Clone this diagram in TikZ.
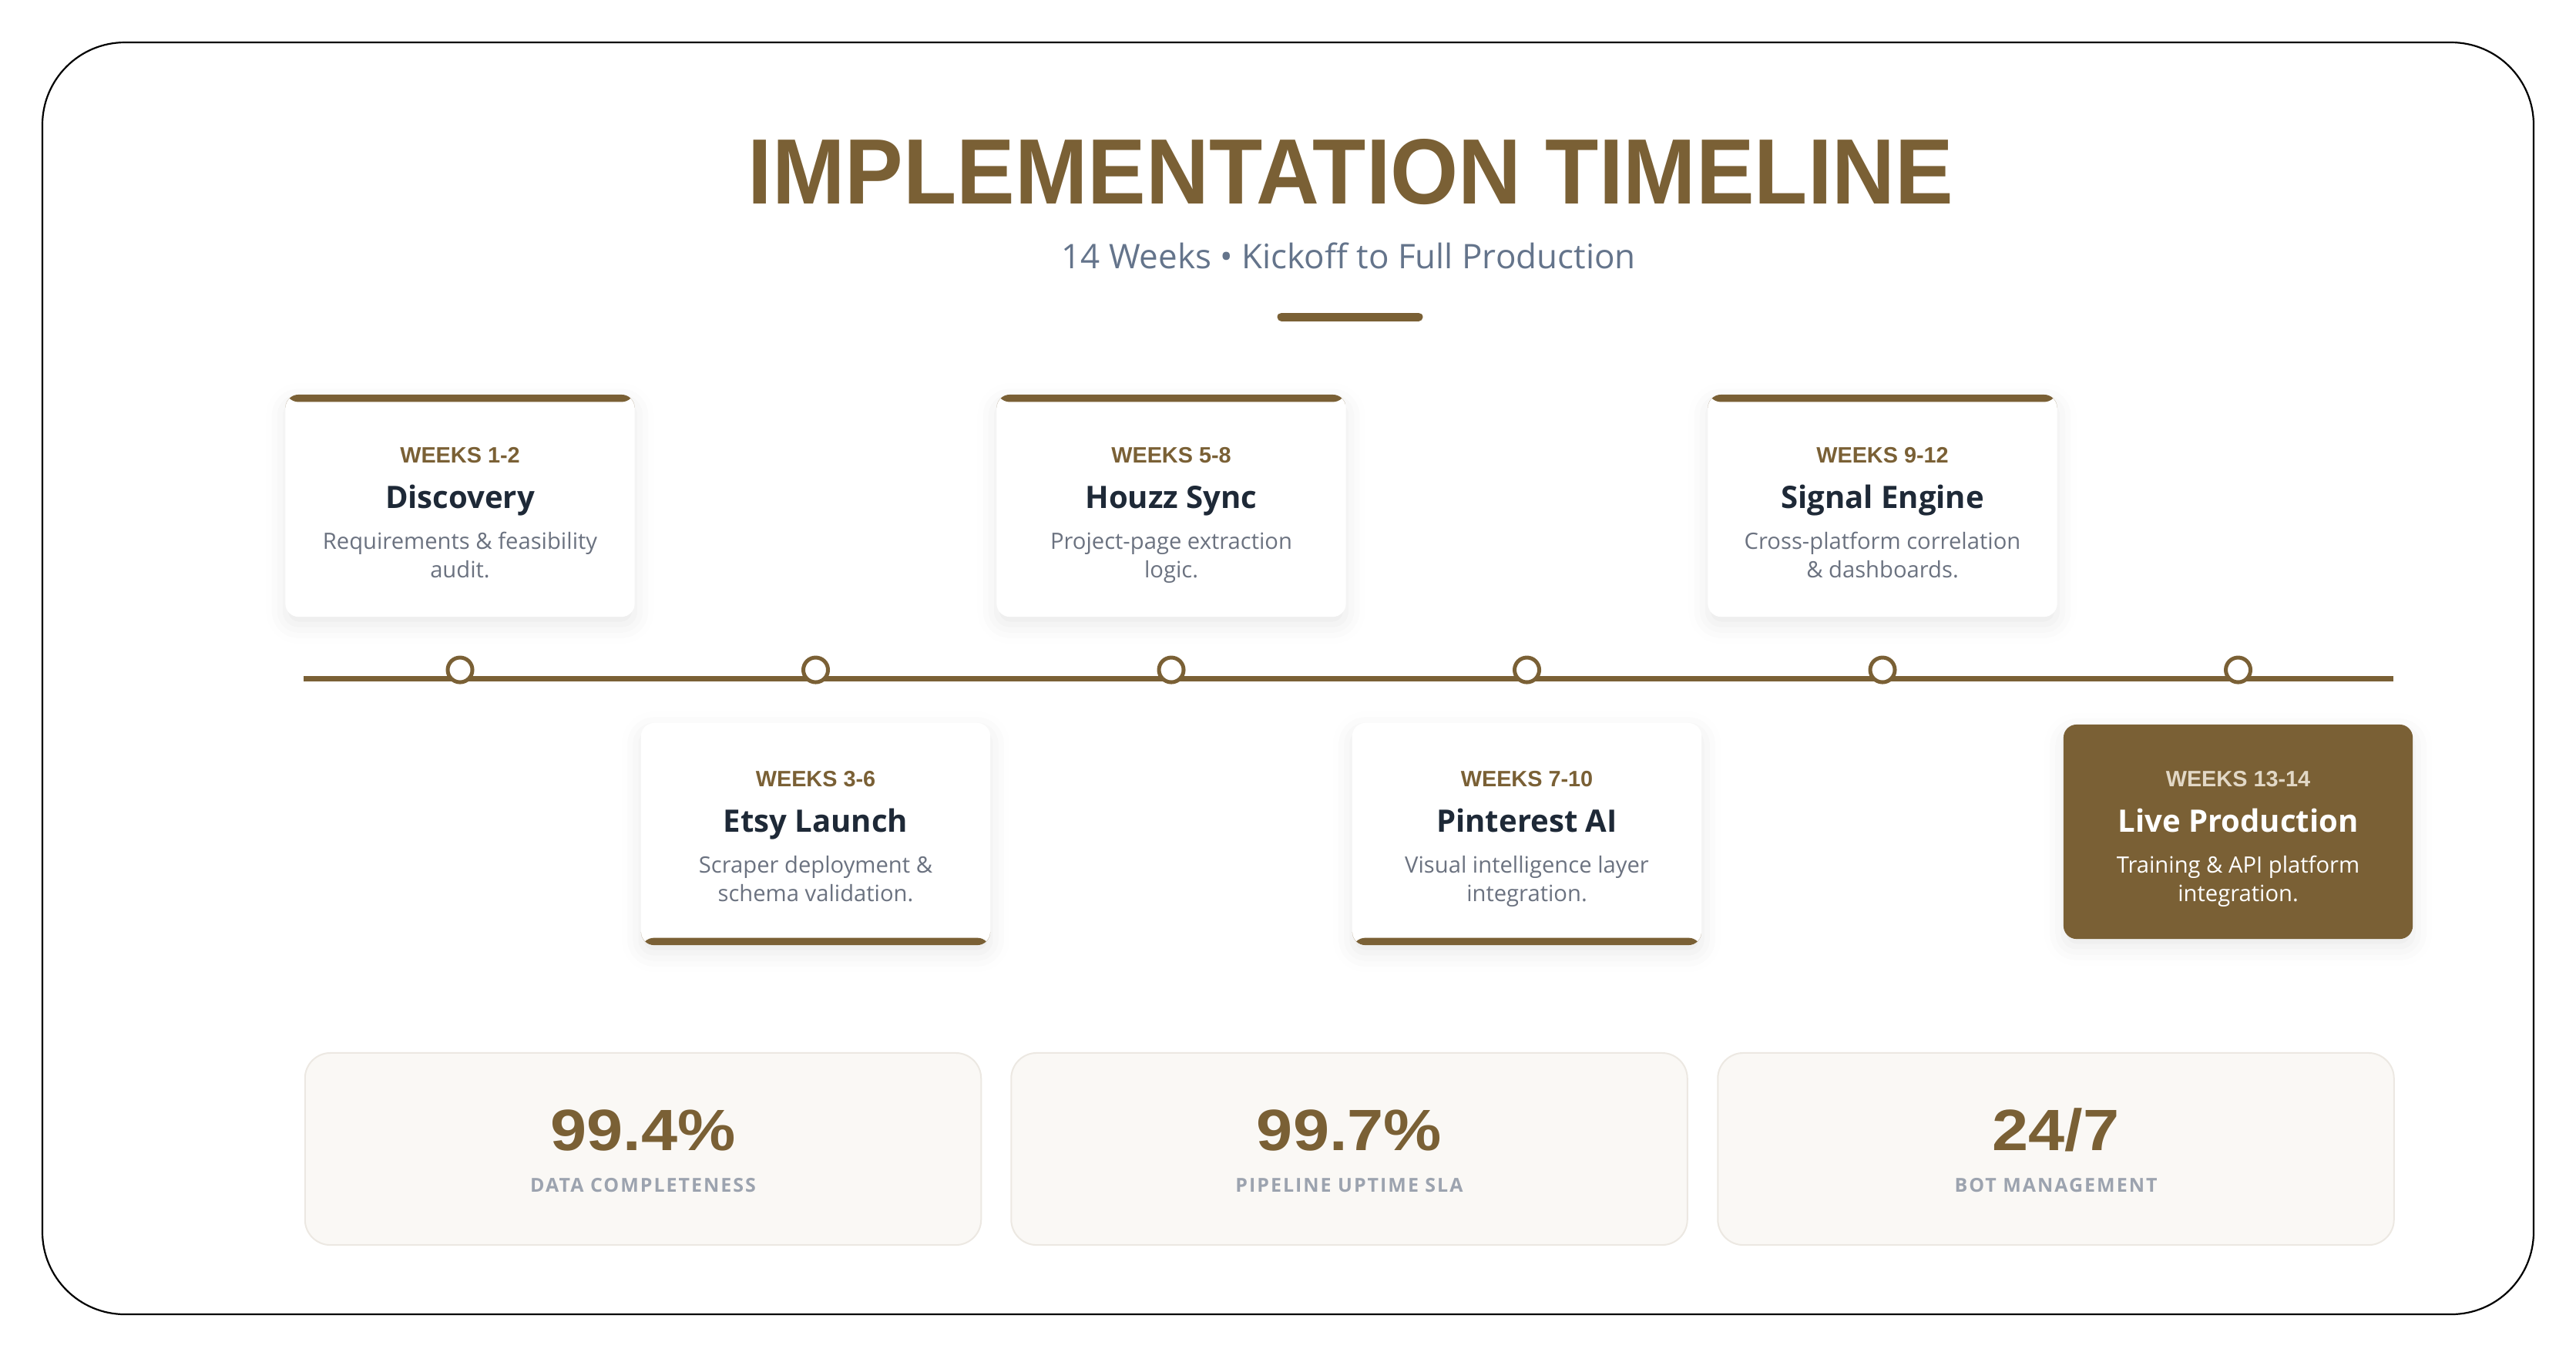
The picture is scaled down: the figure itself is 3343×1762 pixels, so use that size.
\documentclass[tikz,border=0pt]{standalone}
\usepackage{fontspec}
\usepackage{graphicx}
\setmainfont{Open Sans}
\newfontfamily\heavyfont{Liberation Sans}
\newfontfamily\trackfont{Open Sans}[LetterSpace=8.0]
\usetikzlibrary{positioning,shadows.blur}
\definecolor{brand}{HTML}{7A6035}
\definecolor{ink}{HTML}{1E2937}
\definecolor{muted}{HTML}{6B7280}
\definecolor{slate}{HTML}{64748B}
\definecolor{soft}{HTML}{9CA3AF}
\definecolor{paper}{HTML}{FAF8F5}
\definecolor{edge}{HTML}{ECE8E2}
\definecolor{sand}{HTML}{E2D8C6}
\begin{document}
\begin{tikzpicture}[
            x=0.01cm,y=-0.01cm,node distance=0.5cm,
            card/.style={rectangle,rounded corners=0.17cm,fill=white,inner sep=0pt,
              minimum width=4.53cm,minimum height=2.88cm,
              blur shadow={shadow xshift=0cm,shadow yshift=-0.1cm,shadow blur radius=0.25cm,shadow opacity=9}},
            top bar/.style={path picture={\fill[brand] (path picture bounding box.north west) rectangle ([yshift=-0.095cm]path picture bounding box.north east);}},
            bottom bar/.style={path picture={\fill[brand] (path picture bounding box.south west) rectangle ([yshift=0.095cm]path picture bounding box.south east);}},
            weeks/.style={font=\heavyfont\fontsize{8.2}{9}\selectfont\bfseries,text=brand,inner sep=0pt,anchor=base},
            phase/.style={font=\fontsize{11.4}{13}\selectfont\bfseries,text=ink,inner sep=0pt,anchor=base},
            desc/.style={font=\fontsize{8.3}{10}\selectfont,text=muted,inner sep=0pt,anchor=base},
            dot/.style={circle,draw=brand,fill=white,line width=0.05cm,minimum size=0.32cm,inner sep=0pt},
            stat/.style={rectangle,rounded corners=0.33cm,fill=paper,draw=edge,line width=0.02cm,
              minimum width=8.77cm,minimum height=2.49cm,inner sep=0pt},
            num/.style={font=\heavyfont\fontsize{21.5}{24}\selectfont\bfseries,text=brand,inner sep=0pt,anchor=base},
            tag/.style={font=\trackfont\fontsize{7.1}{8}\selectfont\bfseries,text=soft,inner sep=0pt,anchor=base}]
        \useasboundingbox (0,0) rectangle (3343,1762);
        \draw[line width=0.022cm,rounded corners=1.07cm] (55,55) rectangle (3288,1705);

        % Heading
        \node[inner sep=0pt,text=brand] (title) at (1753,223)
            {\resizebox{15.63cm}{0.84cm}{\heavyfont\bfseries IMPLEMENTATION TIMELINE}};
        \node[inner sep=0pt,anchor=base,text=slate,font=\fontsize{12.5}{14}\selectfont] (sub) at (1750,348)
            {14 Weeks • Kickoff to Full Production};
        \coordinate (barL) at (1663,411);
        \coordinate (barR) at (1841,411);
        \draw[brand,line width=0.11cm,line cap=round] (barL) -- (barR);

        % Define cards
        \node[card,top bar] (c1) at (597,656) {};
        \node[weeks,below=0.89cm of c1.north,anchor=base] (w1) {WEEKS 1-2};
        \node[phase,below=0.59cm of w1.base,anchor=base] (p1) {Discovery};
        \node[desc,below=0.53cm of p1.base,anchor=base] (d1) {Requirements \& feasibility};
        \node[desc,below=0.37cm of d1.base,anchor=base] (e1) {audit.};

        \node[card,bottom bar] (c2) at (1058.5,1082) {};
        \node[weeks,below=0.83cm of c2.north,anchor=base] (w2) {WEEKS 3-6};
        \node[phase,below=0.59cm of w2.base,anchor=base] (p2) {Etsy Launch};
        \node[desc,below=0.53cm of p2.base,anchor=base] (d2) {Scraper deployment \&};
        \node[desc,below=0.37cm of d2.base,anchor=base] (e2) {schema validation.};

        \node[card,top bar] (c3) at (1520,656) {};
        \node[weeks,below=0.89cm of c3.north,anchor=base] (w3) {WEEKS 5-8};
        \node[phase,below=0.59cm of w3.base,anchor=base] (p3) {Houzz Sync};
        \node[desc,below=0.53cm of p3.base,anchor=base] (d3) {Project-page extraction};
        \node[desc,below=0.37cm of d3.base,anchor=base] (e3) {logic.};

        \node[card,bottom bar] (c4) at (1981.5,1082) {};
        \node[weeks,below=0.83cm of c4.north,anchor=base] (w4) {WEEKS 7-10};
        \node[phase,below=0.59cm of w4.base,anchor=base] (p4) {Pinterest AI};
        \node[desc,below=0.53cm of p4.base,anchor=base] (d4) {Visual intelligence layer};
        \node[desc,below=0.37cm of d4.base,anchor=base] (e4) {integration.};

        \node[card,top bar] (c5) at (2443,656) {};
        \node[weeks,below=0.89cm of c5.north,anchor=base] (w5) {WEEKS 9-12};
        \node[phase,below=0.59cm of w5.base,anchor=base] (p5) {Signal Engine};
        \node[desc,below=0.53cm of p5.base,anchor=base] (d5) {Cross-platform correlation};
        \node[desc,below=0.37cm of d5.base,anchor=base] (e5) {\& dashboards.};

        \node[card,fill=brand,minimum height=2.78cm] (c6) at (2904.5,1079) {};
        \node[weeks,text=sand,below=0.81cm of c6.north,anchor=base] (w6) {WEEKS 13-14};
        \node[phase,text=white,below=0.59cm of w6.base,anchor=base] (p6) {Live Production};
        \node[desc,text=white,below=0.53cm of p6.base,anchor=base] (d6) {Training \& API platform};
        \node[desc,text=white,below=0.37cm of d6.base,anchor=base] (e6) {integration.};

        % Draw timeline
        \coordinate (start) at (394,880);
        \coordinate (end) at (3106,880);
        \draw[brand,line width=0.07cm] (start) -- (end);
        \node[dot] (t1) at (597,869) {};
        \node[dot] (t2) at (1058.5,869) {};
        \node[dot] (t3) at (1520,869) {};
        \node[dot] (t4) at (1981.5,869) {};
        \node[dot] (t5) at (2443,869) {};
        \node[dot] (t6) at (2904.5,869) {};

        % Stats
        \node[stat] (s1) at (834.5,1490.5) {};
        \node[num,below=1.27cm of s1.north,anchor=base] (n1) {\scalebox{1.12}[1]{99.4\%}};
        \node[tag,below=0.54cm of n1.base,anchor=base] (l1) {DATA COMPLETENESS};
        \node[stat] (s2) at (1751,1490.5) {};
        \node[num,below=1.27cm of s2.north,anchor=base] (n2) {\scalebox{1.12}[1]{99.7\%}};
        \node[tag,below=0.54cm of n2.base,anchor=base] (l2) {PIPELINE UPTIME SLA};
        \node[stat] (s3) at (2668,1490.5) {};
        \node[num,below=1.27cm of s3.north,anchor=base] (n3) {\scalebox{1.12}[1]{24/7}};
        \node[tag,below=0.54cm of n3.base,anchor=base] (l3) {BOT MANAGEMENT};
        \end{tikzpicture}
\end{document}
